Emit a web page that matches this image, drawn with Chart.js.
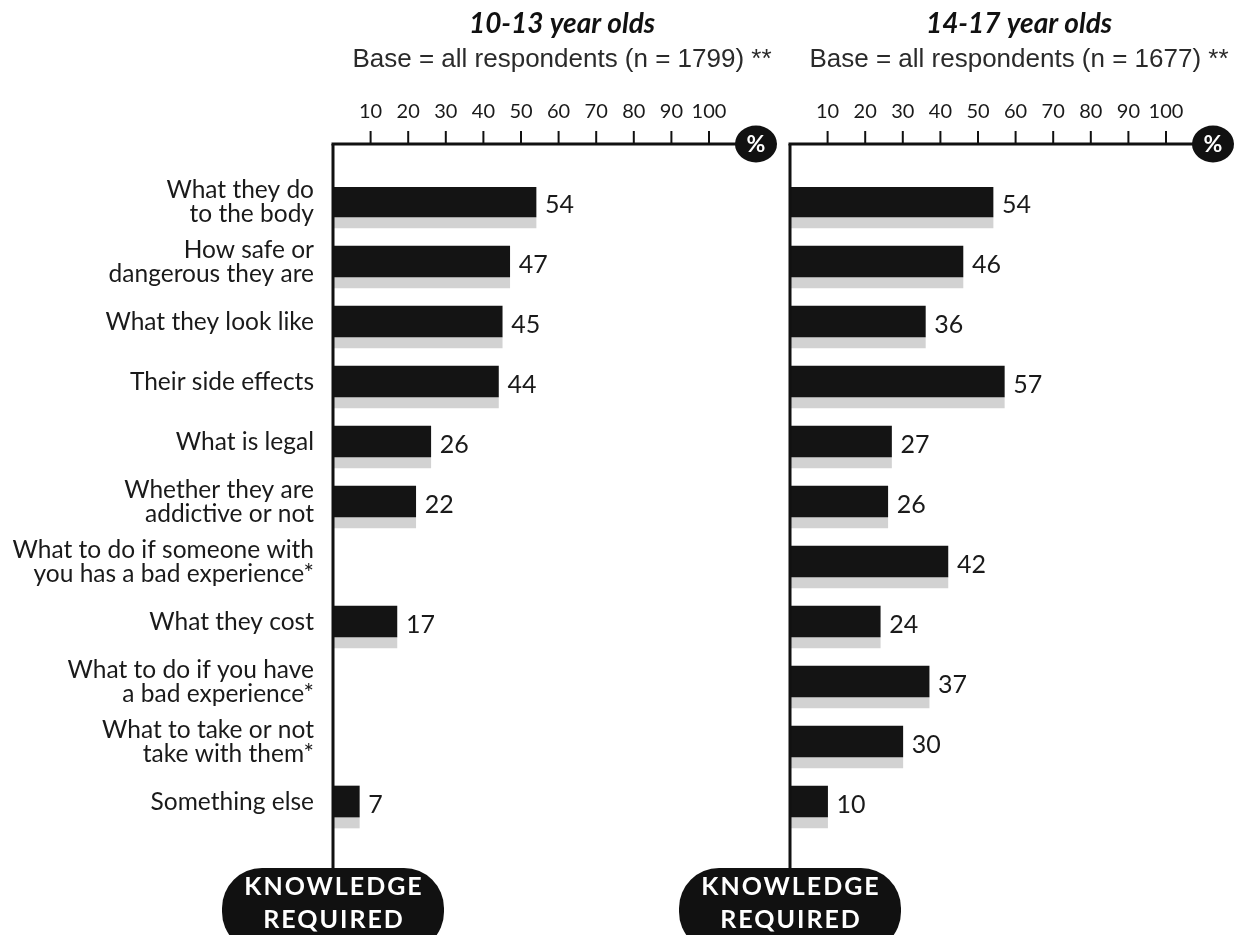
<!DOCTYPE html>
<html>
<head>
<meta charset="utf-8">
<script src="https://cdn.jsdelivr.net/npm/chart.js@4.4.1/dist/chart.umd.min.js"></script>
<style>
  html, body { margin: 0; padding: 0; background: #fff; }
  #wrap { position: relative; width: 1247px; height: 935px; overflow: hidden; background: #fff; }
  #wrap canvas { position: absolute; left: 0; top: 0; }
</style>
</head>
<body>
<div id="wrap">
  <canvas id="young" width="1247" height="935"></canvas>
  <canvas id="older" width="1247" height="935"></canvas>
</div>
<script>
// Topics the respondents said they wanted to know about
const categories = [
  ["What they do", "to the body"],
  ["How safe or", "dangerous they are"],
  "What they look like",
  "Their side effects",
  "What is legal",
  ["Whether they are", "addictive or not"],
  ["What to do if someone with", "you has a bad experience*"],
  "What they cost",
  ["What to do if you have", "a bad experience*"],
  ["What to take or not", "take with them*"],
  "Something else"
];

// Percent of respondents, 10-13 year olds (null = not asked)
const young = [54, 47, 45, 44, 26, 22, null, 17, null, null, 7];
// Percent of respondents, 14-17 year olds
const older = [54, 46, 36, 57, 27, 26, 42, 24, 37, 30, 10];

// Percent ticks along the top axis
const tickValues = [10, 20, 30, 40, 50, 60, 70, 80, 90, 100];

const youngTitle = "10-13 year olds";
const youngBase = "Base = all respondents (n = 1799) **";
const olderTitle = "14-17 year olds";
const olderBase = "Base = all respondents (n = 1677) **";
const badgeLines = ["KNOWLEDGE", "REQUIRED"];

const INK = '#141414';
const SHADE = '#d2d2d2';

// Draws the headings, the top % axis, the drop line with its badge and the value labels
const panelDecor = {
  id: 'panelDecor',
  afterDraw(chart, args, opts) {
    const ctx = chart.ctx;
    const xs = chart.scales.x;
    const area = chart.chartArea;
    const x0 = area.left;
    const axisY = area.top - 43;
    const badgeTop = 868;

    ctx.save();

    // headings
    ctx.textAlign = 'center';
    ctx.textBaseline = 'middle';
    ctx.fillStyle = '#111';
    ctx.font = 'italic bold 28px Lato';
    ctx.fillText(opts.title, x0 + 229, 24);
    ctx.fillStyle = '#2a2a2a';
    ctx.font = '26px "Liberation Sans"';
    ctx.fillText(opts.base, x0 + 229, 60);

    // top axis line ending in the % disc
    const cx = xs.getPixelForValue(112.5);
    ctx.strokeStyle = '#111';
    ctx.lineWidth = 3;
    ctx.lineCap = 'butt';
    ctx.beginPath();
    ctx.moveTo(x0 - 1.5, axisY);
    ctx.lineTo(cx, axisY);
    ctx.stroke();

    // vertical axis down to the badge
    ctx.beginPath();
    ctx.moveTo(x0, axisY);
    ctx.lineTo(x0, badgeTop + 2);
    ctx.stroke();

    // tick marks and labels
    ctx.lineWidth = 2;
    ctx.fillStyle = '#1a1a1a';
    ctx.font = '20px Lato';
    tickValues.forEach(v => {
      const px = xs.getPixelForValue(v);
      ctx.beginPath();
      ctx.moveTo(px, axisY);
      ctx.lineTo(px, axisY - 13);
      ctx.stroke();
      ctx.fillText(String(v), px, 112);
    });

    // % disc
    ctx.fillStyle = '#111';
    ctx.beginPath();
    ctx.ellipse(cx, axisY, 21, 18.5, 0, 0, Math.PI * 2);
    ctx.fill();
    ctx.fillStyle = '#fff';
    ctx.font = 'bold 23px Lato';
    ctx.fillText('%', cx, axisY + 1);

    // badge
    const bw = 222, bh = 84;
    ctx.fillStyle = '#111';
    ctx.beginPath();
    ctx.roundRect(x0 - bw / 2, badgeTop, bw, bh, 40);
    ctx.fill();
    ctx.fillStyle = '#fff';
    ctx.font = 'bold 25px Lato';
    ctx.letterSpacing = '2px';
    ctx.fillText(badgeLines[0], x0 + 1, 887);
    ctx.fillText(badgeLines[1], x0 + 1, 920);
    ctx.letterSpacing = '0px';

    // value labels next to the dark bars
    const meta = chart.getDatasetMeta(0);
    const values = chart.data.datasets[0].data;
    ctx.textAlign = 'left';
    ctx.fillStyle = '#1a1a1a';
    ctx.font = '25px Lato';
    meta.data.forEach((bar, i) => {
      const v = values[i];
      if (v === null || v === undefined) return;
      ctx.fillText(String(v), bar.x + 9, bar.y + 3);
    });

    ctx.restore();
  }
};

function makePanel(canvasId, values, title, base, showLabels, padding) {
  return new Chart(document.getElementById(canvasId), {
    type: 'bar',
    data: {
      labels: categories,
      datasets: [
        { data: values, backgroundColor: INK, barThickness: 31, borderWidth: 0 },
        { data: values, backgroundColor: SHADE, barThickness: 11, borderWidth: 0 }
      ]
    },
    options: {
      indexAxis: 'y',
      responsive: false,
      animation: false,
      devicePixelRatio: 1,
      layout: { padding },
      scales: {
        x: { type: 'linear', min: 0, max: 100, display: false },
        y: {
          type: 'category',
          offset: true,
          display: showLabels,
          grid: { display: false, drawTicks: false },
          border: { display: false },
          ticks: {
            color: '#1a1a1a',
            font: { family: 'Lato', size: 24.5, lineHeight: 0.95 },
            padding: 19,
            labelOffset: -15
          },
          afterFit(scale) { if (showLabels) scale.width = 333; }
        }
      },
      plugins: {
        legend: { display: false },
        tooltip: { enabled: false },
        panelDecor: { title, base }
      }
    },
    plugins: [panelDecor]
  });
}

makePanel('young', young, youngTitle, youngBase, true,
  { left: 0, right: 538, top: 187, bottom: 88 });
makePanel('older', older, olderTitle, olderBase, false,
  { left: 790, right: 81, top: 187, bottom: 88 });
</script>
</body>
</html>
